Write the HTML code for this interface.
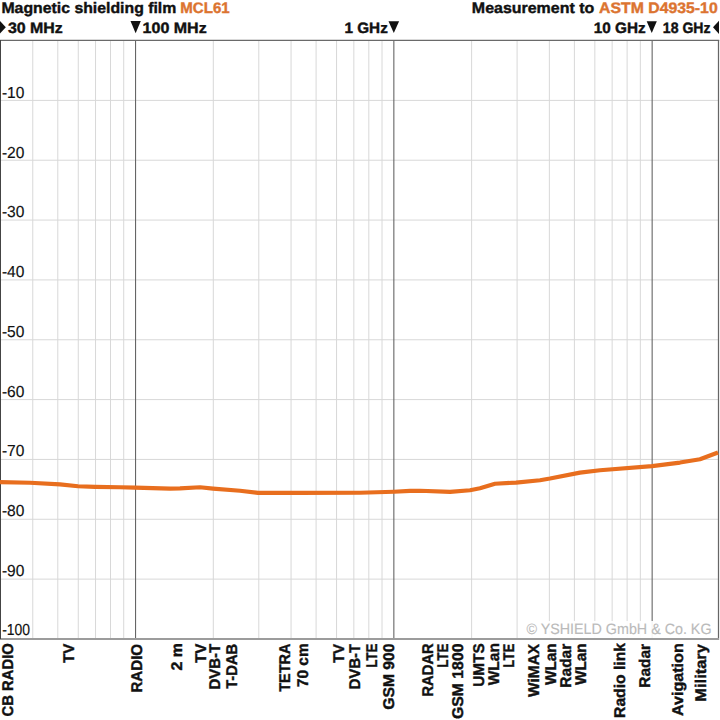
<!DOCTYPE html><html><head><meta charset="utf-8"><style>html,body{margin:0;padding:0;background:#fff;width:720px;height:720px;overflow:hidden}svg{display:block}text{font-family:"Liberation Sans",sans-serif;text-rendering:geometricPrecision}</style></head><body>
<svg width="720" height="720" viewBox="0 0 720 720">
<rect x="0" y="0" width="720" height="720" fill="#fff"/>
<g stroke="#d8d8d8" stroke-width="1"><line x1="32.76" y1="40" x2="32.76" y2="639" /><line x1="57.79" y1="40" x2="57.79" y2="639" /><line x1="78.25" y1="40" x2="78.25" y2="639" /><line x1="95.54" y1="40" x2="95.54" y2="639" /><line x1="110.52" y1="40" x2="110.52" y2="639" /><line x1="123.73" y1="40" x2="123.73" y2="639" /><line x1="213.31" y1="40" x2="213.31" y2="639" /><line x1="258.79" y1="40" x2="258.79" y2="639" /><line x1="291.06" y1="40" x2="291.06" y2="639" /><line x1="316.09" y1="40" x2="316.09" y2="639" /><line x1="336.55" y1="40" x2="336.55" y2="639" /><line x1="353.84" y1="40" x2="353.84" y2="639" /><line x1="368.82" y1="40" x2="368.82" y2="639" /><line x1="382.03" y1="40" x2="382.03" y2="639" /><line x1="471.61" y1="40" x2="471.61" y2="639" /><line x1="517.09" y1="40" x2="517.09" y2="639" /><line x1="549.36" y1="40" x2="549.36" y2="639" /><line x1="574.39" y1="40" x2="574.39" y2="639" /><line x1="594.85" y1="40" x2="594.85" y2="639" /><line x1="612.14" y1="40" x2="612.14" y2="639" /><line x1="627.12" y1="40" x2="627.12" y2="639" /><line x1="640.33" y1="40" x2="640.33" y2="639" /></g>
<g stroke="#d8d8d8" stroke-width="1"><line x1="0" y1="100.39" x2="718" y2="100.39" /><line x1="0" y1="160.23" x2="718" y2="160.23" /><line x1="0" y1="220.07" x2="718" y2="220.07" /><line x1="0" y1="279.91" x2="718" y2="279.91" /><line x1="0" y1="339.75" x2="718" y2="339.75" /><line x1="0" y1="399.59" x2="718" y2="399.59" /><line x1="0" y1="459.43" x2="718" y2="459.43" /><line x1="0" y1="519.27" x2="718" y2="519.27" /><line x1="0" y1="579.11" x2="718" y2="579.11" /></g>
<g stroke="#666" stroke-width="1.1"><line x1="135.55" y1="40" x2="135.55" y2="639" /><line x1="393.85" y1="40" x2="393.85" y2="639" /><line x1="652.15" y1="40" x2="652.15" y2="639" /></g>
<line x1="0" y1="40.45" x2="719.2" y2="40.45" stroke="#6a6a6a" stroke-width="1.3"/>
<line x1="718.5" y1="40" x2="718.5" y2="640" stroke="#666" stroke-width="1.25"/>
<rect x="0" y="638" width="719" height="2" fill="#9c9c9c"/>
<line x1="0.5" y1="40" x2="0.5" y2="639" stroke="#444" stroke-width="1"/>
<polyline points="0.0,482.15 30.0,482.75 60.0,484.45 78.0,486.25 95.0,486.85 120.0,487.25 135.0,487.65 170.0,488.65 180.0,488.45 200.0,487.25 213.0,488.55 240.0,490.75 258.0,492.95 300.0,492.95 360.0,492.75 394.0,491.75 410.0,490.95 420.0,490.75 450.0,491.85 470.0,490.25 480.0,488.25 495.0,483.75 516.0,482.55 540.0,480.25 550.0,478.55 580.0,472.65 600.0,470.25 652.0,466.05 660.0,465.15 680.0,462.55 700.0,459.25 718.0,452.55" fill="none" stroke="#e86e1e" stroke-width="4.2" stroke-linejoin="round" stroke-linecap="butt"/>
<rect x="522" y="621" width="195" height="17" fill="#fff" fill-opacity="0.92"/>
<polygon points="-1,19.8 5.8,27.15 -1,34.5" fill="#111"/><polygon points="130.50,21.00 140.80,21.00 135.65,33.20" fill="#111"/><polygon points="388.50,21.30 399.10,21.30 393.80,33.00" fill="#111"/><polygon points="646.70,21.30 656.80,21.30 651.75,33.00" fill="#111"/><polygon points="713,27.35 719,20.7 719,34" fill="#111"/>
<text id="t1" x="1.45" y="13.00" font-size="15.20" font-weight="bold" fill="#111" stroke="#111" stroke-width="0.40" text-anchor="start" textLength="174.91" lengthAdjust="spacingAndGlyphs">Magnetic shielding film</text>
<text id="t2" x="180.27" y="13.00" font-size="15.20" font-weight="bold" fill="#dc7430" stroke="#dc7430" stroke-width="0.40" text-anchor="start" textLength="49.42" lengthAdjust="spacingAndGlyphs">MCL61</text>
<text id="t3" x="471.83" y="13.00" font-size="15.20" font-weight="bold" fill="#111" stroke="#111" stroke-width="0.40" text-anchor="start" textLength="122.45" lengthAdjust="spacingAndGlyphs">Measurement to</text>
<text id="t4" x="598.99" y="13.00" font-size="15.20" font-weight="bold" fill="#dc7430" stroke="#dc7430" stroke-width="0.40" text-anchor="start" textLength="118.71" lengthAdjust="spacingAndGlyphs">ASTM D4935-10</text>
<text id="f1" x="7.90" y="33.00" font-size="15.00" font-weight="bold" fill="#111" stroke="#111" stroke-width="0.40" text-anchor="start" textLength="54.85" lengthAdjust="spacingAndGlyphs">30 MHz</text>
<text id="f2" x="142.56" y="33.00" font-size="15.00" font-weight="bold" fill="#111" stroke="#111" stroke-width="0.40" text-anchor="start" textLength="64.17" lengthAdjust="spacingAndGlyphs">100 MHz</text>
<text id="f3" x="344.44" y="33.00" font-size="15.00" font-weight="bold" fill="#111" stroke="#111" stroke-width="0.40" text-anchor="start" textLength="43.36" lengthAdjust="spacingAndGlyphs">1 GHz</text>
<text id="f4" x="593.84" y="33.00" font-size="15.00" font-weight="bold" fill="#111" stroke="#111" stroke-width="0.40" text-anchor="start" textLength="51.92" lengthAdjust="spacingAndGlyphs">10 GHz</text>
<text id="f5" x="662.86" y="33.00" font-size="15.00" font-weight="bold" fill="#111" stroke="#111" stroke-width="0.40" text-anchor="start" textLength="47.72" lengthAdjust="spacingAndGlyphs">18 GHz</text>
<text id="y1" x="1.88" y="98.00" font-size="15.90" font-weight="normal" fill="#111" stroke="#111" stroke-width="0.15" text-anchor="start" textLength="22.48" lengthAdjust="spacingAndGlyphs">-10</text>
<text id="y2" x="1.88" y="158.00" font-size="15.90" font-weight="normal" fill="#111" stroke="#111" stroke-width="0.15" text-anchor="start" textLength="22.48" lengthAdjust="spacingAndGlyphs">-20</text>
<text id="y3" x="1.88" y="217.00" font-size="15.90" font-weight="normal" fill="#111" stroke="#111" stroke-width="0.15" text-anchor="start" textLength="22.48" lengthAdjust="spacingAndGlyphs">-30</text>
<text id="y4" x="1.88" y="277.00" font-size="15.90" font-weight="normal" fill="#111" stroke="#111" stroke-width="0.15" text-anchor="start" textLength="22.48" lengthAdjust="spacingAndGlyphs">-40</text>
<text id="y5" x="1.88" y="337.00" font-size="15.90" font-weight="normal" fill="#111" stroke="#111" stroke-width="0.15" text-anchor="start" textLength="22.48" lengthAdjust="spacingAndGlyphs">-50</text>
<text id="y6" x="1.88" y="397.00" font-size="15.90" font-weight="normal" fill="#111" stroke="#111" stroke-width="0.15" text-anchor="start" textLength="22.48" lengthAdjust="spacingAndGlyphs">-60</text>
<text id="y7" x="1.88" y="456.00" font-size="15.90" font-weight="normal" fill="#111" stroke="#111" stroke-width="0.15" text-anchor="start" textLength="22.48" lengthAdjust="spacingAndGlyphs">-70</text>
<text id="y8" x="1.88" y="516.00" font-size="15.90" font-weight="normal" fill="#111" stroke="#111" stroke-width="0.15" text-anchor="start" textLength="22.48" lengthAdjust="spacingAndGlyphs">-80</text>
<text id="y9" x="1.88" y="576.00" font-size="15.90" font-weight="normal" fill="#111" stroke="#111" stroke-width="0.15" text-anchor="start" textLength="22.48" lengthAdjust="spacingAndGlyphs">-90</text>
<text id="y10" x="2.14" y="635.00" font-size="15.90" font-weight="normal" fill="#111" stroke="#111" stroke-width="0.15" text-anchor="start" textLength="27.91" lengthAdjust="spacingAndGlyphs">-100</text>
<text id="wm" x="526.46" y="634.00" font-size="15.00" font-weight="normal" fill="#bababa" stroke="#bababa" stroke-width="0.15" text-anchor="start" textLength="185.08" lengthAdjust="spacingAndGlyphs">© YSHIELD GmbH &amp; Co. KG</text>
<text id="r0" x="13.00" y="643.09" font-size="15.50" font-weight="bold" fill="#111" stroke="#111" stroke-width="0.40" text-anchor="end" textLength="73.33" lengthAdjust="spacingAndGlyphs" transform="rotate(-90 13.00 643.09)">CB RADIO</text>
<text id="r1" x="74.00" y="643.84" font-size="15.50" font-weight="bold" fill="#111" stroke="#111" stroke-width="0.40" text-anchor="end" textLength="19.18" lengthAdjust="spacingAndGlyphs" transform="rotate(-90 74.00 643.84)">TV</text>
<text id="r2" x="142.00" y="643.88" font-size="15.50" font-weight="bold" fill="#111" stroke="#111" stroke-width="0.40" text-anchor="end" textLength="48.70" lengthAdjust="spacingAndGlyphs" transform="rotate(-90 142.00 643.88)">RADIO</text>
<text id="r3" x="182.00" y="642.99" font-size="15.50" font-weight="bold" fill="#111" stroke="#111" stroke-width="0.40" text-anchor="end" textLength="27.43" lengthAdjust="spacingAndGlyphs" transform="rotate(-90 182.00 642.99)">2 m</text>
<text id="r4" x="206.00" y="643.59" font-size="15.50" font-weight="bold" fill="#111" stroke="#111" stroke-width="0.40" text-anchor="end" textLength="19.42" lengthAdjust="spacingAndGlyphs" transform="rotate(-90 206.00 643.59)">TV</text>
<text id="r5" x="220.00" y="643.86" font-size="15.50" font-weight="bold" fill="#111" stroke="#111" stroke-width="0.40" text-anchor="end" textLength="45.72" lengthAdjust="spacingAndGlyphs" transform="rotate(-90 220.00 643.86)">DVB-T</text>
<text id="r6" x="237.00" y="643.78" font-size="15.50" font-weight="bold" fill="#111" stroke="#111" stroke-width="0.40" text-anchor="end" textLength="45.08" lengthAdjust="spacingAndGlyphs" transform="rotate(-90 237.00 643.78)">T-DAB</text>
<text id="r7" x="290.00" y="643.50" font-size="15.50" font-weight="bold" fill="#111" stroke="#111" stroke-width="0.40" text-anchor="end" textLength="48.34" lengthAdjust="spacingAndGlyphs" transform="rotate(-90 290.00 643.50)">TETRA</text>
<text id="r8" x="308.00" y="643.26" font-size="15.50" font-weight="bold" fill="#111" stroke="#111" stroke-width="0.40" text-anchor="end" textLength="43.95" lengthAdjust="spacingAndGlyphs" transform="rotate(-90 308.00 643.26)">70 cm</text>
<text id="r9" x="344.00" y="643.94" font-size="15.50" font-weight="bold" fill="#111" stroke="#111" stroke-width="0.40" text-anchor="end" textLength="19.07" lengthAdjust="spacingAndGlyphs" transform="rotate(-90 344.00 643.94)">TV</text>
<text id="r10" x="360.00" y="643.98" font-size="15.50" font-weight="bold" fill="#111" stroke="#111" stroke-width="0.40" text-anchor="end" textLength="45.17" lengthAdjust="spacingAndGlyphs" transform="rotate(-90 360.00 643.98)">DVB-T</text>
<text id="r11" x="377.00" y="643.58" font-size="15.50" font-weight="bold" fill="#111" stroke="#111" stroke-width="0.40" text-anchor="end" textLength="24.26" lengthAdjust="spacingAndGlyphs" transform="rotate(-90 377.00 643.58)">LTE</text>
<text id="r12" x="394.00" y="643.43" font-size="15.50" font-weight="bold" fill="#111" stroke="#111" stroke-width="0.40" text-anchor="end" textLength="66.29" lengthAdjust="spacingAndGlyphs" transform="rotate(-90 394.00 643.43)">GSM 900</text>
<text id="r13" x="433.00" y="643.27" font-size="15.50" font-weight="bold" fill="#111" stroke="#111" stroke-width="0.40" text-anchor="end" textLength="53.31" lengthAdjust="spacingAndGlyphs" transform="rotate(-90 433.00 643.27)">RADAR</text>
<text id="r14" x="448.00" y="643.58" font-size="15.50" font-weight="bold" fill="#111" stroke="#111" stroke-width="0.40" text-anchor="end" textLength="24.26" lengthAdjust="spacingAndGlyphs" transform="rotate(-90 448.00 643.58)">LTE</text>
<text id="r15" x="463.00" y="643.54" font-size="15.50" font-weight="bold" fill="#111" stroke="#111" stroke-width="0.40" text-anchor="end" textLength="75.50" lengthAdjust="spacingAndGlyphs" transform="rotate(-90 463.00 643.54)">GSM 1800</text>
<text id="r16" x="484.00" y="643.31" font-size="15.50" font-weight="bold" fill="#111" stroke="#111" stroke-width="0.40" text-anchor="end" textLength="43.43" lengthAdjust="spacingAndGlyphs" transform="rotate(-90 484.00 643.31)">UMTS</text>
<text id="r17" x="499.00" y="643.11" font-size="15.50" font-weight="bold" fill="#111" stroke="#111" stroke-width="0.40" text-anchor="end" textLength="42.23" lengthAdjust="spacingAndGlyphs" transform="rotate(-90 499.00 643.11)">WLan</text>
<text id="r18" x="514.00" y="643.77" font-size="15.50" font-weight="bold" fill="#111" stroke="#111" stroke-width="0.40" text-anchor="end" textLength="23.88" lengthAdjust="spacingAndGlyphs" transform="rotate(-90 514.00 643.77)">LTE</text>
<text id="r19" x="539.00" y="643.96" font-size="15.50" font-weight="bold" fill="#111" stroke="#111" stroke-width="0.40" text-anchor="end" textLength="52.92" lengthAdjust="spacingAndGlyphs" transform="rotate(-90 539.00 643.96)">WiMAX</text>
<text id="r20" x="556.00" y="643.26" font-size="15.50" font-weight="bold" fill="#111" stroke="#111" stroke-width="0.40" text-anchor="end" textLength="41.71" lengthAdjust="spacingAndGlyphs" transform="rotate(-90 556.00 643.26)">WLan</text>
<text id="r21" x="571.00" y="643.77" font-size="15.50" font-weight="bold" fill="#111" stroke="#111" stroke-width="0.40" text-anchor="end" textLength="43.87" lengthAdjust="spacingAndGlyphs" transform="rotate(-90 571.00 643.77)">Radar</text>
<text id="r22" x="586.00" y="643.26" font-size="15.50" font-weight="bold" fill="#111" stroke="#111" stroke-width="0.40" text-anchor="end" textLength="41.71" lengthAdjust="spacingAndGlyphs" transform="rotate(-90 586.00 643.26)">WLan</text>
<text id="r23" x="625.00" y="643.02" font-size="15.50" font-weight="bold" fill="#111" stroke="#111" stroke-width="0.40" text-anchor="end" textLength="74.88" lengthAdjust="spacingAndGlyphs" transform="rotate(-90 625.00 643.02)">Radio link</text>
<text id="r24" x="650.00" y="643.95" font-size="15.50" font-weight="bold" fill="#111" stroke="#111" stroke-width="0.40" text-anchor="end" textLength="43.69" lengthAdjust="spacingAndGlyphs" transform="rotate(-90 650.00 643.95)">Radar</text>
<text id="r25" x="683.00" y="643.26" font-size="15.50" font-weight="bold" fill="#111" stroke="#111" stroke-width="0.40" text-anchor="end" textLength="72.73" lengthAdjust="spacingAndGlyphs" transform="rotate(-90 683.00 643.26)">Avigation</text>
<text id="r26" x="706.00" y="644.09" font-size="15.50" font-weight="bold" fill="#111" stroke="#111" stroke-width="0.40" text-anchor="end" textLength="57.59" lengthAdjust="spacingAndGlyphs" transform="rotate(-90 706.00 644.09)">Military</text>
</svg></body></html>
